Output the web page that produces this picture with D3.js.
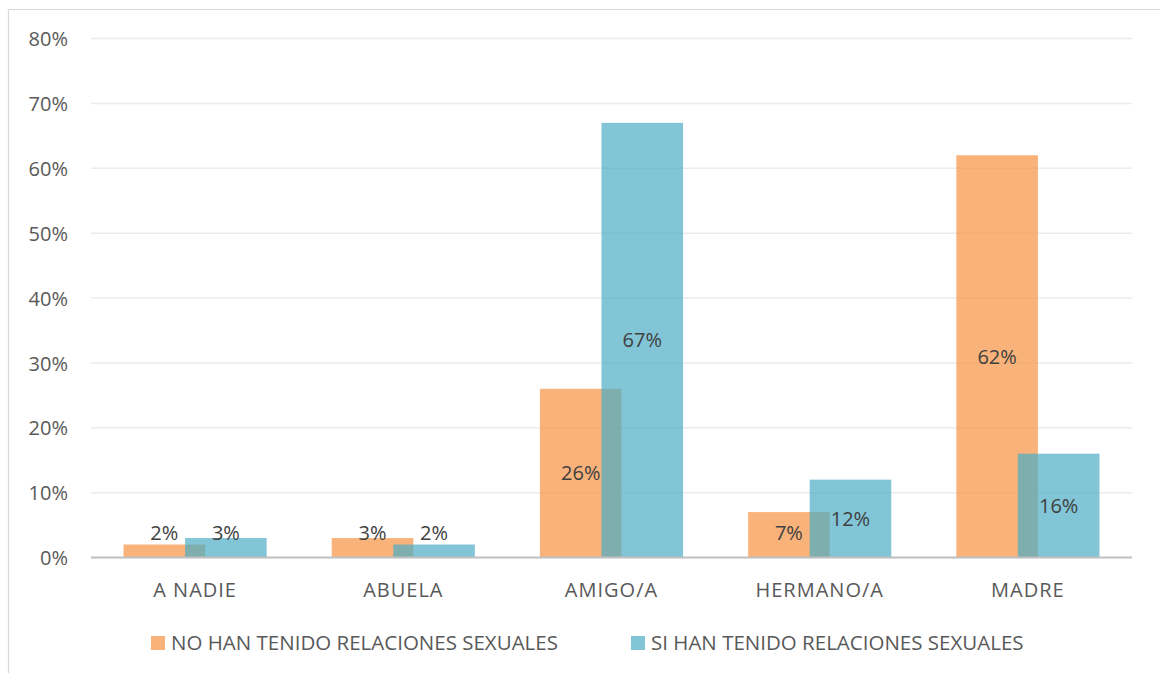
<!DOCTYPE html>
<html>
<head>
<meta charset="utf-8">
<script src="https://cdn.jsdelivr.net/npm/d3@7"></script>
<style>
  html, body { margin: 0; padding: 0; background: #fff; }
  svg { display: block; font-family: "Open Sans", "Lato", sans-serif; }
</style>
</head>
<body>
<svg id="chart" width="1160" height="673"></svg>
<script>
// Confidants by group (share of respondents)
const categories = ["A NADIE", "ABUELA", "AMIGO/A", "HERMANO/A", "MADRE"];
const seriesNames = ["NO HAN TENIDO RELACIONES SEXUALES", "SI HAN TENIDO RELACIONES SEXUALES"];
const noValues = [2, 3, 26, 7, 62];
const siValues = [3, 2, 67, 12, 16];
const yTicks = [0, 10, 20, 30, 40, 50, 60, 70, 80];

const series = [
  { name: seriesNames[0], values: noValues, color: "#F79646", opacity: 0.72 },
  { name: seriesNames[1], values: siValues, color: "#4BACC6", opacity: 0.70 }
];

const FONT = "'Open Sans', Lato, sans-serif";
const svg = d3.select("#chart");
const W = 1160, H = 673;
const plot = { left: 91, right: 1132, top: 38.5, bottom: 557.5 };

// Outer frame (left and top edges visible)
svg.append("path")
  .attr("d", `M8.5,${H + 2} V9.5 H${W + 2}`)
  .attr("fill", "none")
  .attr("stroke", "#d9d9d9")
  .attr("stroke-width", 1.2);

const x = d3.scaleBand().domain(categories).range([plot.left, plot.right]).padding(0);
const y = d3.scaleLinear().domain([0, 80]).range([plot.bottom, plot.top]);

// Gridlines
svg.append("g").selectAll("line")
  .data(yTicks.filter(t => t > 0))
  .join("line")
  .attr("x1", plot.left).attr("x2", plot.right)
  .attr("y1", d => y(d)).attr("y2", d => y(d))
  .attr("stroke", "#ececec").attr("stroke-width", 1.5);

// Y axis labels
const yAxis = d3.axisLeft(y).tickValues(yTicks).tickFormat(d => d + "%").tickSize(0).tickPadding(0);
const gy = svg.append("g").attr("transform", `translate(68,0)`).call(yAxis);
gy.select(".domain").remove();
gy.selectAll("text")
  .attr("fill", "#595959")
  .attr("font-size", 20)
  .attr("font-family", FONT)
  .attr("dy", "0.36em");

// Bars: two overlapping columns per category
const barW = x.bandwidth() * 0.392;
const offset = barW * 0.377;
const barX = (cat, i) => x(cat) + x.bandwidth() / 2 + (i === 0 ? -offset - barW / 2 : offset - barW / 2);

series.forEach((s, i) => {
  svg.append("g").selectAll("rect")
    .data(categories.map((c, k) => ({ c, v: s.values[k] })))
    .join("rect")
    .attr("x", d => barX(d.c, i))
    .attr("width", barW)
    .attr("y", d => y(d.v))
    .attr("height", d => y(0) - y(d.v))
    .attr("fill", s.color)
    .attr("fill-opacity", s.opacity);
});

// Baseline
svg.append("line")
  .attr("x1", plot.left).attr("x2", plot.right)
  .attr("y1", y(0)).attr("y2", y(0))
  .attr("stroke", "#bfbfbf").attr("stroke-width", 2);

// Value labels (centered in bar, lifted for short bars)
series.forEach((s, i) => {
  svg.append("g").selectAll("text")
    .data(categories.map((c, k) => ({ c, v: s.values[k] })))
    .join("text")
    .attr("x", d => barX(d.c, i) + barW / 2)
    .attr("y", d => Math.min((y(d.v) + y(0)) / 2, y(0) - 25))
    .attr("dy", "0.36em")
    .attr("text-anchor", "middle")
    .attr("fill", "#404040")
    .attr("font-size", 20)
    .attr("font-family", FONT)
    .text(d => d.v + "%");
});

// Category labels
const xAxis = d3.axisBottom(x).tickSize(0).tickPadding(0);
const gx = svg.append("g").attr("transform", `translate(0,${y(0) + 32})`).call(xAxis);
gx.select(".domain").remove();
gx.selectAll("text")
  .attr("fill", "#595959")
  .attr("font-size", 20)
  .attr("font-family", FONT)
  .attr("letter-spacing", "1px")
  .attr("dy", "0.36em")
  .attr("y", 0);

// Legend
const legendItems = [
  { name: series[0].name, color: series[0].color, op: series[0].opacity, x: 151 },
  { name: series[1].name, color: series[1].color, op: series[1].opacity, x: 631 }
];
const lg = svg.append("g");
legendItems.forEach(it => {
  lg.append("rect")
    .attr("x", it.x).attr("y", 636)
    .attr("width", 14).attr("height", 14)
    .attr("fill", it.color).attr("fill-opacity", it.op);
  lg.append("text")
    .attr("x", it.x + 20).attr("y", 643)
    .attr("dy", "0.36em")
    .attr("fill", "#595959")
    .attr("font-size", 20.5)
    .attr("font-family", FONT)
    .text(it.name);
});
</script>
</body>
</html>
